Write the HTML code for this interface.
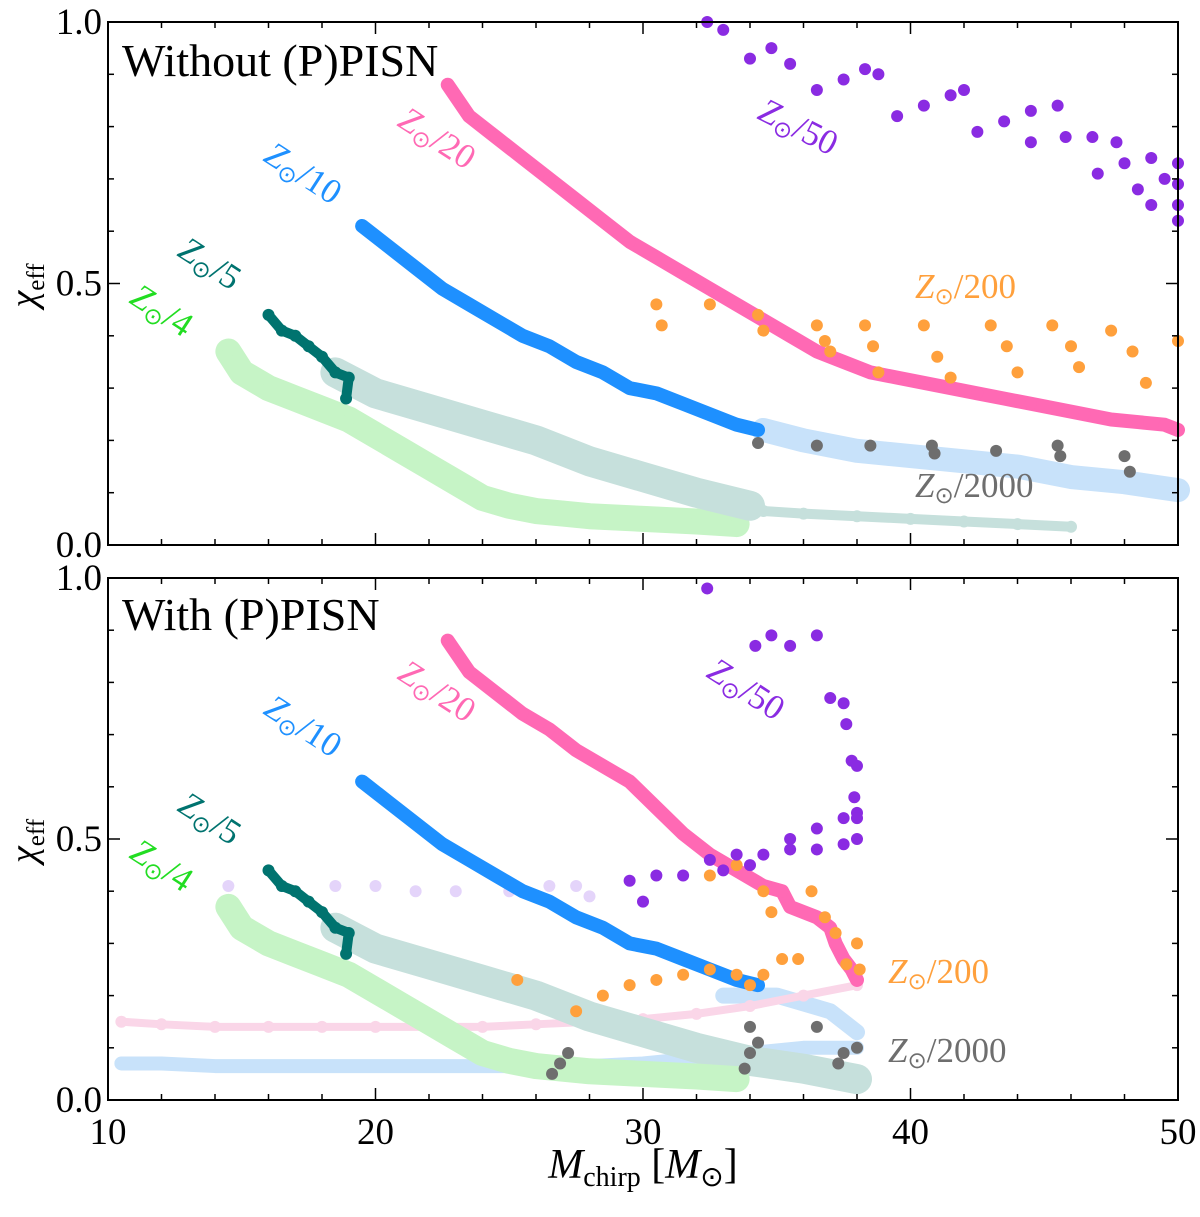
<!DOCTYPE html>
<html><head><meta charset="utf-8"><style>
body{margin:0;background:#fff}
svg{display:block;font-family:"Liberation Serif",serif}
</style></head><body>
<svg id="chart" width="1200" height="1217" viewBox="0 0 1200 1217" xmlns="http://www.w3.org/2000/svg"></svg>
<script>
const xTicks=[10,20,30,40,50];
const yTicks=[0.0,0.5,1.0];
const yTickLabels=["0.0","0.5","1.0"];
// top panel series [Mchirp, chi_eff]
const topPink=[[22.7,0.88],[23.5,0.82],[24.5,0.78],[25.5,0.74],[26.5,0.70],[27.5,0.66],[28.5,0.62],[29.5,0.58],[30.5,0.55],[31.5,0.52],[32.5,0.49],[33.5,0.46],[34.5,0.43],[35.5,0.40],[36.5,0.37],[37.5,0.35],[38.5,0.33],[39.5,0.32],[40.5,0.31],[41.5,0.30],[42.5,0.29],[43.5,0.28],[44.5,0.27],[45.5,0.26],[46.5,0.25],[47.5,0.24],[48.5,0.235],[49.5,0.23],[50,0.22]];
const topBlue=[[19.5,0.61],[20.5,0.57],[21.5,0.53],[22.5,0.49],[23.5,0.46],[24.5,0.43],[25.5,0.40],[26.5,0.38],[27.5,0.35],[28.5,0.33],[29.5,0.30],[30.5,0.29],[31.5,0.27],[32.5,0.25],[33.5,0.23],[34.3,0.22]];
const topPaleBlue=[[34.5,0.22],[36,0.20],[38,0.18],[40,0.17],[42,0.16],[44,0.15],[46,0.13],[48,0.12],[50,0.105]];
const topTeal=[[16,0.44],[16.5,0.41],[17,0.40],[17.5,0.38],[18,0.36],[18.5,0.33],[19,0.32],[18.9,0.28]];
const topPaleTeal=[[18.5,0.33],[20,0.29],[22,0.26],[24,0.23],[26,0.20],[28,0.16],[30,0.13],[32,0.10],[34,0.075]];
const topPaleTeal2=[[34.5,0.065],[36,0.06],[38,0.055],[40,0.05],[42,0.045],[44,0.04],[46,0.035]];
const topPaleGreen=[[14.5,0.37],[15,0.33],[16,0.30],[17,0.28],[18,0.26],[19,0.24],[20,0.21],[21,0.18],[22,0.15],[23,0.12],[24,0.09],[25,0.075],[26,0.065],[27,0.06],[28,0.055],[30,0.05],[32,0.045],[33.5,0.04]];
const topGray=[[34.3,0.195],[36.5,0.19],[38.5,0.19],[40.8,0.19],[40.9,0.175],[43.2,0.18],[45.5,0.19],[45.6,0.17],[48,0.17],[48.2,0.14]];
const topOrange=[[30.5,0.46],[30.7,0.42],[32.5,0.46],[34.3,0.44],[34.5,0.41],[36.5,0.42],[36.8,0.39],[37,0.37],[38.3,0.42],[38.6,0.38],[38.8,0.33],[40.5,0.42],[41,0.36],[41.5,0.32],[43,0.42],[43.6,0.38],[44,0.33],[45.3,0.42],[46,0.38],[46.3,0.34],[47.5,0.41],[48.3,0.37],[48.8,0.31],[50,0.39]];
const topPurple=[[32.4,1.0],[33.0,0.985],[34.0,0.93],[34.8,0.95],[35.5,0.92],[36.5,0.87],[37.5,0.89],[38.3,0.91],[38.8,0.9],[39.5,0.82],[40.5,0.84],[41.5,0.86],[42.0,0.87],[42.5,0.79],[43.5,0.81],[44.5,0.83],[45.5,0.84],[44.5,0.77],[45.8,0.78],[46.8,0.78],[47.7,0.77],[47.0,0.71],[48,0.73],[49,0.74],[50,0.73],[48.5,0.68],[49.5,0.70],[50,0.69],[50,0.65],[49.0,0.65],[50,0.62]];
// bottom panel series
const botPink=[[22.7,0.88],[23.5,0.82],[24.5,0.78],[25.5,0.74],[26.5,0.71],[27.5,0.67],[28.5,0.64],[29.5,0.61],[30.5,0.56],[31.5,0.51],[32.5,0.47],[33.5,0.44],[34.5,0.41],[35.2,0.40],[35.5,0.37],[36.5,0.35],[37,0.33],[37.2,0.30],[37.5,0.27],[37.8,0.25],[38,0.23]];
const botPurple=[[32.4,0.98],[34.2,0.87],[34.8,0.89],[35.5,0.87],[36.5,0.89],[37,0.77],[37.5,0.76],[37.6,0.72],[37.8,0.65],[38,0.64],[37.9,0.58],[38,0.55],[35.5,0.50],[36.5,0.52],[37.5,0.54],[38,0.54],[32.5,0.46],[33.5,0.47],[34.5,0.47],[35.5,0.48],[36.5,0.48],[37.5,0.49],[38,0.50],[29.5,0.42],[30.5,0.43],[31.5,0.43],[33,0.44],[34,0.45],[30,0.38]];
const botOrange=[[27.5,0.17],[28.5,0.20],[29.5,0.22],[30.5,0.23],[31.5,0.24],[32.5,0.25],[33.5,0.24],[34,0.22],[34.5,0.24],[35.2,0.27],[35.8,0.27],[34.5,0.40],[34.8,0.36],[36.3,0.40],[36.8,0.35],[37.2,0.32],[38,0.30],[38.1,0.25],[37.6,0.26],[25.3,0.23],[32.5,0.43],[33.5,0.45]];
const botGray=[[26.6,0.05],[26.9,0.07],[27.2,0.09],[34,0.14],[33.8,0.06],[34,0.09],[34.3,0.11],[36.5,0.14],[37.5,0.09],[38,0.1],[37.3,0.07]];
const botPaleBlue=[[10.5,0.07],[12,0.07],[14,0.065],[16,0.065],[18,0.065],[20,0.065],[25,0.065],[28,0.065],[30,0.07],[32,0.08],[34,0.09],[36,0.10],[38,0.10]];
const botPaleBlue2=[[33,0.20],[35,0.20],[37,0.17],[38,0.13]];
const botPalePink=[[10.5,0.15],[12,0.145],[14,0.14],[16,0.14],[18,0.14],[20,0.14],[22,0.14],[24,0.14],[26,0.145],[28,0.15],[30,0.155],[32,0.165],[34,0.18],[36,0.20],[38,0.22]];
const botPalePurple=[[14.5,0.41],[16.5,0.41],[18.5,0.41],[20,0.41],[21.5,0.40],[23,0.40],[25,0.40],[26.5,0.41],[27.5,0.41],[28,0.39]];
const botPaleTeal=[[18.5,0.33],[20,0.29],[22,0.26],[24,0.23],[26,0.20],[28,0.16],[30,0.13],[32,0.10],[34,0.075],[36,0.06],[38,0.04]];

const svg=document.getElementById('chart');
const NS="http://www.w3.org/2000/svg";
const X0=108,X1=1178;
const xs=v=>X0+(v-10)/40*(X1-X0);
function mk(tag,attrs,parent){const e=document.createElementNS(NS,tag);for(const k in attrs)e.setAttribute(k,attrs[k]);(parent||svg).appendChild(e);return e;}

function panel(top,bot,name){
  const ys=v=>bot-v*(bot-top);
  const g=mk('g',{});
  
  
  function series(data,color,nm,band,r){
    const sg=mk('g',{},g);
    
    
    if(band){
      const p=mk('polyline',{points:data.map(d=>xs(d[0])+','+ys(d[1])).join(' '),fill:'none',stroke:color,'stroke-width':band,'stroke-linecap':'round','stroke-linejoin':'round'},sg);
      
      
    }
    data.forEach(d=>{
      const c=mk('circle',{cx:xs(d[0]),cy:ys(d[1]),r:r||6,fill:color},sg);
      
      
    });
  }
  return {g,ys,series};
}
function axes(top,bot,showX){
  const ys=v=>bot-v*(bot-top);
  const ag=mk('g',{});
  
  
  const fr=mk('rect',{x:X0,y:top,width:X1-X0,height:bot-top,fill:'none',stroke:'#000','stroke-width':2},ag);
  
  
  for(let v=10;v<=50;v+=2){
    const L=(v%10===0)?12:6;
    mk('line',{x1:xs(v),x2:xs(v),y1:bot,y2:bot-L,stroke:'#000','stroke-width':1.5},ag);
    mk('line',{x1:xs(v),x2:xs(v),y1:top,y2:top+L,stroke:'#000','stroke-width':1.5},ag);
  }
  for(let i=0;i<=10;i++){
    const v=i/10,L=(i%5===0)?12:6;
    mk('line',{x1:X0,x2:X0+L,y1:ys(v),y2:ys(v),stroke:'#000','stroke-width':1.5},ag);
    mk('line',{x1:X1,x2:X1-L,y1:ys(v),y2:ys(v),stroke:'#000','stroke-width':1.5},ag);
  }
  yTicks.forEach((v,i)=>{
    const t=mk('text',{x:X0-6,y:ys(v)+12,'text-anchor':'end','font-size':37},ag);
    t.textContent=yTickLabels[i];
    
    
  });
  if(showX){xTicks.forEach(v=>{
    const t=mk('text',{x:xs(v),y:bot+44,'text-anchor':'middle','font-size':37},ag);
    t.textContent=v;
    
    
  });}
  const yl=mk('text',{transform:`translate(36,${ys(0.5)+2}) rotate(-90)`,'text-anchor':'middle','font-size':38,'font-style':'italic'},ag);
  yl.innerHTML='χ<tspan font-size="25" font-style="normal" dy="8">eff</tspan>';
  
  
}
function label(x,y,rot,color,sub,nm){
  const t=mk('text',{transform:`translate(${x},${y}) rotate(${rot})`,fill:color,'font-size':35},svg);
  t.innerHTML=`<tspan font-style="italic">Z</tspan><tspan font-size="23" dy="6">⊙</tspan><tspan dy="-6">/${sub}</tspan>`;
  
  
}
const PINK='#ff69b4',BLUE='#1e90ff',TEAL='#00736f',ORANGE='#ffa03c',PURPLE='#8a2be2',GRAY='#6e6e6e';
const PBLUE='#c8e2fa',PTEAL='#c6e0dc',PGREEN='#c6f4c6',PPINK='#fad6e8',PPURPLE='#e4d4fa';

const T=panel(22,545,'top-panel-without-pisn');
T.series(topPaleBlue,PBLUE,'z2000-pale-band',24);
T.series(topPaleGreen,PGREEN,'z4-series',26);
T.series(topPaleTeal,PTEAL,'z5-pale-band',30);
T.series(topPaleTeal2,PTEAL,'z5-pale-band-tail',10);
T.series(topTeal,TEAL,'z5-series',10);
T.series(topBlue,BLUE,'z10-series',14);
T.series(topPink,PINK,'z20-series',14);
T.series(topOrange,ORANGE,'z200-series',0);
T.series(topGray,GRAY,'z2000-series',0);
T.series(topPurple,PURPLE,'z50-series',0);
axes(22,545,false);

const B=panel(578,1100,'bottom-panel-with-pisn');
B.series(botPaleBlue,PBLUE,'z2000-pale-band',14);
B.series(botPaleBlue2,PBLUE,'z2000-pale-band-upper',16);
B.series(botPalePink,PPINK,'z20-pale-band',8);
B.series(botPalePurple,PPURPLE,'z50-pale-points',0);
B.series(botPaleTeal,PTEAL,'z5-pale-band',30);
B.series(topPaleGreen,PGREEN,'z4-series',26);
B.series(topTeal,TEAL,'z5-series',10);
B.series(topBlue,BLUE,'z10-series',14);
B.series(botPink,PINK,'z20-series',14);
B.series(botOrange,ORANGE,'z200-series',0);
B.series(botGray,GRAY,'z2000-series',0);
B.series(botPurple,PURPLE,'z50-series',0);
axes(578,1100,true);

[['Without (P)PISN',76,'top-panel-title'],['With (P)PISN',630,'bottom-panel-title']].forEach(a=>{
  const t=mk('text',{x:122,y:a[1],'font-size':46},svg);t.textContent=a[0];
  
});
label(396,125,33,PINK,'20','label-z20-top');
label(262,160,33,BLUE,'10','label-z10-top');
label(176,255,33,TEAL,'5','label-z5-top');
label(128,302,33,'#22dd22','4','label-z4-top');
label(756,118,27,PURPLE,'50','label-z50-top');
label(915,298,0,ORANGE,'200','label-z200-top');
label(915,497,0,GRAY,'2000','label-z2000-top');
label(396,678,33,PINK,'20','label-z20-bottom');
label(262,713,33,BLUE,'10','label-z10-bottom');
label(176,810,33,TEAL,'5','label-z5-bottom');
label(128,857,33,'#22dd22','4','label-z4-bottom');
label(705,676,33,PURPLE,'50','label-z50-bottom');
label(888,983,0,ORANGE,'200','label-z200-bottom');
label(888,1062,0,GRAY,'2000','label-z2000-bottom');
const xt=mk('text',{x:643,y:1178,'text-anchor':'middle','font-size':42},svg);
xt.innerHTML='<tspan font-style="italic">M</tspan><tspan font-size="28" dy="8">chirp</tspan><tspan dy="-8"> [</tspan><tspan font-style="italic">M</tspan><tspan font-size="28" dy="8">⊙</tspan><tspan dy="-8">]</tspan>';


</script>
</body></html>
